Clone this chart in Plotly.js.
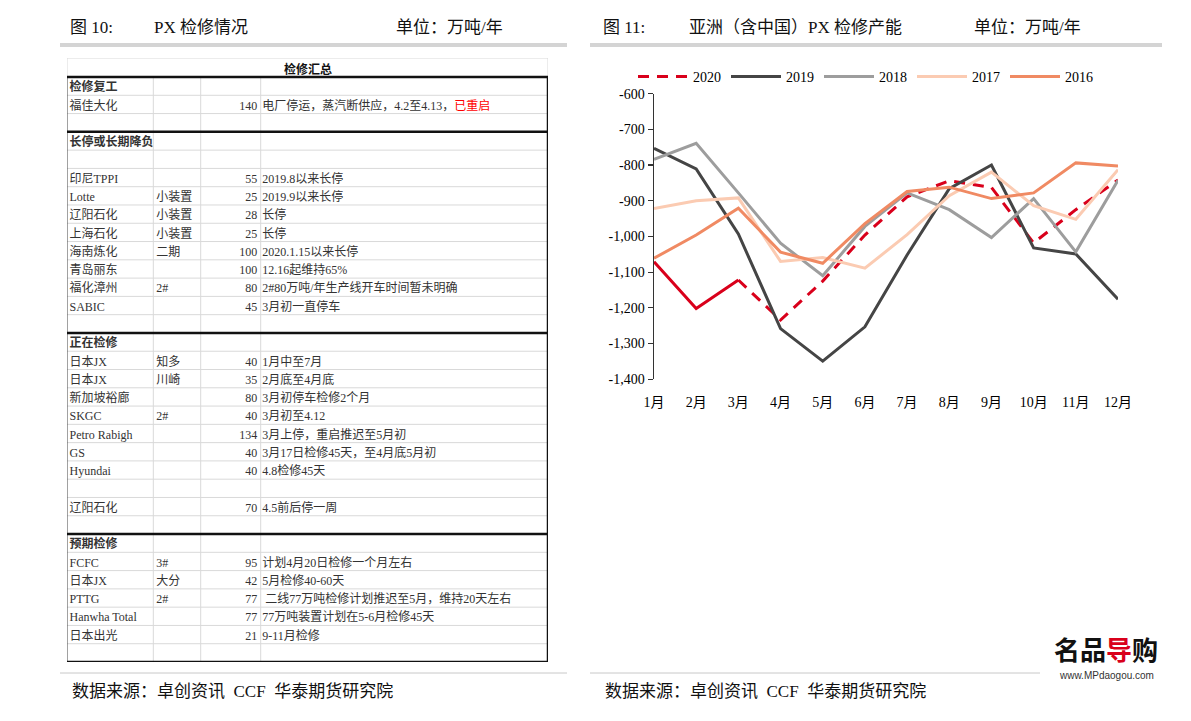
<!DOCTYPE html>
<html><head><meta charset="utf-8">
<script src="https://cdn.plot.ly/plotly-3.0.1.min.js"></script>
<style>html,body{margin:0;padding:0;background:#fff;}#chart{width:1191px;height:721px;}</style>
</head><body><div id="chart"></div>
<script>
// ---------- chart data ----------
var months = ['1月','2月','3月','4月','5月','6月','7月','8月','9月','10月','11月','12月'];
var v2020 = [-1071,-1202,-1122,-1234,-1125,-996,-889,-844,-863,-1018,-925,-842];
var v2019 = [-753,-811,-993,-1258,-1349,-1253,-1052,-866,-800,-1032,-1049,-1176];
var v2018 = [-784,-739,-878,-1019,-1110,-972,-878,-925,-1003,-894,-1043,-843];
var v2017 = [-922,-900,-892,-1070,-1059,-1089,-995,-886,-820,-914,-952,-813];
var v2016 = [-1061,-996,-921,-1044,-1075,-964,-874,-862,-894,-878,-794,-803];
var actualMonths2020 = 3;
var yTickVals = [-600,-700,-800,-900,-1000,-1100,-1200,-1300,-1400];
var yTickText = ['-600','-700','-800','-900','-1,000','-1,100','-1,200','-1,300','-1,400'];

// ---------- table data ----------
var tableTitle = '检修汇总';
var tableNames = ['检修复工','福佳大化','','长停或长期降负','','印尼TPPI','Lotte','辽阳石化','上海石化','海南炼化','青岛丽东','福化漳州','SABIC','','正在检修','日本JX','日本JX','新加坡裕廊','SKGC','Petro Rabigh','GS','Hyundai','','辽阳石化','','预期检修','FCFC','日本JX','PTTG','Hanwha Total','日本出光',''];
var tableUnits = ['','','','','','','小装置','小装置','小装置','二期','','2#','','','','知多','川崎','','2#','','','','','','','','3#','大分','2#','','',''];
var tableCap = ['','140','','','','55','25','28','25','100','100','80','45','','','40','35','80','40','134','40','40','','70','','','95','42','77','77','21',''];
var tableNotes = ['','电厂停运，蒸汽断供应，4.2至4.13，','','','','2019.8以来长停','2019.9以来长停','长停','长停','2020.1.15以来长停','12.16起维持65%','2#80万吨/年生产线开车时间暂未明确','3月初一直停车','','','1月中至7月','2月底至4月底','3月初停车检修2个月','3月初至4.12','3月上停，重启推迟至5月初','3月17日检修45天，至4月底5月初','4.8检修45天','','4.5前后停一周','','','计划4月20日检修一个月左右','5月检修40-60天',' 二线77万吨检修计划推迟至5月，维持20天左右','77万吨装置计划在5-6月检修45天','9-11月检修',''];
var tableNotesRed = ['','已重启','','','','','','','','','','','','','','','','','','','','','','','','','','','','','',''];
var sectionRows = [0,3,14,25];

// ---------- geometry ----------
var W = 1191, H = 721;
function px(x){return x/W;}
function py(y){return 1 - y/H;}
var serif = 'Liberation Serif, "Noto Sans CJK SC", serif';
var nRows = tableNames.length;
var rowY = tableNames.map(function(_, i){return i + 0.62;});
function fill(n, v){var a=[];for(var i=0;i<n;i++)a.push(v);return a;}
var colX = {c1: 0, c2: 86.3, c3: 133.7, c4: 193.7, end: 481};

var traces = [];
// 2020 actual (solid) + forecast (dashed)
var red = '#d9001b';
var a2020 = v2020.map(function(v,i){return i < actualMonths2020 ? v : null;});
var f2020 = v2020.map(function(v,i){return i >= actualMonths2020 - 1 ? v : null;});
traces.push({type:'scatter', mode:'lines', x:months, y:a2020, name:'2020', showlegend:false,
  line:{color:red, width:3}, hoverinfo:'skip'});
traces.push({type:'scatter', mode:'lines', x:months, y:f2020, name:'2020',
  line:{color:red, width:3, dash:'11px,8px'}, hoverinfo:'skip'});
var series = [['2019', v2019, '#454545'], ['2018', v2018, '#9d9d9d'], ['2017', v2017, '#fbcbb2'], ['2016', v2016, '#f08a63']];
series.forEach(function(s){
  traces.push({type:'scatter', mode:'lines', x:months, y:s[1], name:s[0],
    line:{color:s[2], width:3}, hoverinfo:'skip'});
});

// table text traces
var tfont = {family: serif, size: 12, color: '#333'};
var nameText = tableNames.map(function(t,i){return sectionRows.indexOf(i) >= 0 ? '<b>' + t + '</b>' : t;});
traces.push({type:'scatter', mode:'text', xaxis:'x2', yaxis:'y2', x:fill(nRows, colX.c1 + 2.5), y:rowY,
  text:nameText, textposition:'middle right', textfont:tfont, showlegend:false, hoverinfo:'skip'});
traces.push({type:'scatter', mode:'text', xaxis:'x2', yaxis:'y2', x:fill(nRows, colX.c2 + 3), y:rowY,
  text:tableUnits, textposition:'middle right', textfont:tfont, showlegend:false, hoverinfo:'skip'});
traces.push({type:'scatter', mode:'text', xaxis:'x2', yaxis:'y2', x:fill(nRows, colX.c4 - 3.5), y:rowY,
  text:tableCap, textposition:'middle left', textfont:tfont, showlegend:false, hoverinfo:'skip'});
var noteText = tableNotes.map(function(t,i){return tableNotesRed[i] ? t + '<span style="color:#ff0000">' + tableNotesRed[i] + '</span>' : t;});
traces.push({type:'scatter', mode:'text', xaxis:'x2', yaxis:'y2', x:fill(nRows, colX.c4 + 1.5), y:rowY,
  text:noteText, textposition:'middle right', textfont:tfont, showlegend:false, hoverinfo:'skip'});

// table grid shapes
var shapes = [];
var light = '#d9d9d9';
function hline(y, color, w){shapes.push({type:'line', xref:'x2', yref:'y2', x0:0, x1:colX.end, y0:y, y1:y, line:{color:color, width:w}});}
function vline(x, y0, y1, color, w){shapes.push({type:'line', xref:'x2', yref:'y2', x0:x, x1:x, y0:y0, y1:y1, line:{color:color, width:w}});}
for (var r = 1; r < nRows; r++) { if ([3,14,25].indexOf(r) < 0) hline(r, light, 1); }
hline(-1.04, light, 1);
vline(colX.c2, 0, nRows, light, 1);
vline(colX.c3, 0, nRows, light, 1);
vline(colX.c4, 0, nRows, light, 1);
vline(0, -1.04, 0, light, 1);
vline(colX.end, -1.04, 0, light, 1);
vline(0, 0, nRows, '#444', 1);
vline(colX.end, 0, nRows, '#111', 2.5);
[0,3,14,25,nRows].forEach(function(y){hline(y, '#111', 2.5);});

// title bars & footer lines
shapes.push({type:'rect', xref:'paper', yref:'paper', x0:px(60), x1:px(567), y0:py(47), y1:py(43), fillcolor:'#d4d4d4', line:{width:0}});
shapes.push({type:'rect', xref:'paper', yref:'paper', x0:px(590), x1:px(1162), y0:py(47), y1:py(43), fillcolor:'#d4d4d4', line:{width:0}});
shapes.push({type:'line', xref:'paper', yref:'paper', x0:px(60), x1:px(567), y0:py(673), y1:py(673), line:{color:'#c8c8c8', width:1}});
shapes.push({type:'line', xref:'paper', yref:'paper', x0:px(590), x1:px(1040), y0:py(673), y1:py(673), line:{color:'#c8c8c8', width:1}});

var tf = {family: serif, size: 17, color: '#111'};
function ann(x, y, text, font, xanchor){return {xref:'paper', yref:'paper', x:px(x), y:py(y), text:text, showarrow:false, xanchor:xanchor||'left', yanchor:'middle', font:font};}
var annotations = [
  ann(68, 28, '图 10:', tf), ann(152, 28, 'PX 检修情况', tf), ann(394, 28, '单位：万吨/年', tf),
  ann(601, 28, '图 11:', tf), ann(687, 28, '亚洲（含中国）PX 检修产能', tf), ann(972, 28, '单位：万吨/年', tf),
  ann(70, 691, '数据来源：卓创资讯  CCF  华泰期货研究院', tf), ann(603, 691, '数据来源：卓创资讯  CCF  华泰期货研究院', tf),
  {xref:'x2', yref:'y2', x:colX.end/2, y:-0.42, text:'<b>' + tableTitle + '</b>', showarrow:false, xanchor:'center', yanchor:'middle', font:{family:serif, size:12, color:'#111'}},
  ann(1106, 648, '<b>名品<span style="color:#d9001b">导</span>购</b>', {family:'"Noto Sans CJK SC", sans-serif', size:26, color:'#111'}, 'center'),
  ann(1106, 675, 'www.MPdaogou.com', {family:'Liberation Sans, sans-serif', size:10, color:'#333'}, 'center')
];

var axFont = {family: serif, size: 14, color: '#000'};
var layout = {
  width: W, height: H, margin:{l:0, r:0, t:0, b:0}, paper_bgcolor:'#fff', plot_bgcolor:'rgba(0,0,0,0)',
  showlegend: true,
  legend:{orientation:'h', x:px(633), y:py(77), xanchor:'left', yanchor:'middle', font:axFont, itemwidth:50, traceorder:'normal', bgcolor:'rgba(0,0,0,0)', itemclick:false},
  xaxis:{domain:[px(654), px(1118)], type:'category', range:[0, 11], showline:false, ticks:'outside', ticklen:10, tickcolor:'rgba(0,0,0,0)',
    showgrid:false, zeroline:false, tickfont:axFont, anchor:'y', fixedrange:true},
  xaxis3:{overlaying:'x', anchor:'y', side:'top', type:'linear', range:[0, 11], dtick:1, tick0:0, showline:true, linecolor:'#333', linewidth:1.5,
    ticks:'inside', ticklen:5, tickwidth:1.2, tickcolor:'#333', showticklabels:false, showgrid:false, zeroline:false, fixedrange:true},
  yaxis:{domain:[py(379.3), py(93.6)], range:[-1400, -600], tickvals:yTickVals, ticktext:yTickText, showline:true, linecolor:'#333', linewidth:1.5,
    ticks:'outside', ticklen:5, tickwidth:1.2, tickcolor:'#333', showgrid:false, zeroline:false, tickfont:axFont, anchor:'x', fixedrange:true},
  xaxis2:{domain:[px(67), px(548)], range:[0, colX.end], visible:false, anchor:'y2', fixedrange:true},
  yaxis2:{domain:[py(662), py(58)], range:[nRows, -1.04], visible:false, anchor:'x2', fixedrange:true},
  shapes: shapes, annotations: annotations
};
Plotly.newPlot('chart', traces, layout, {staticPlot:true, displayModeBar:false});
</script></body></html>
